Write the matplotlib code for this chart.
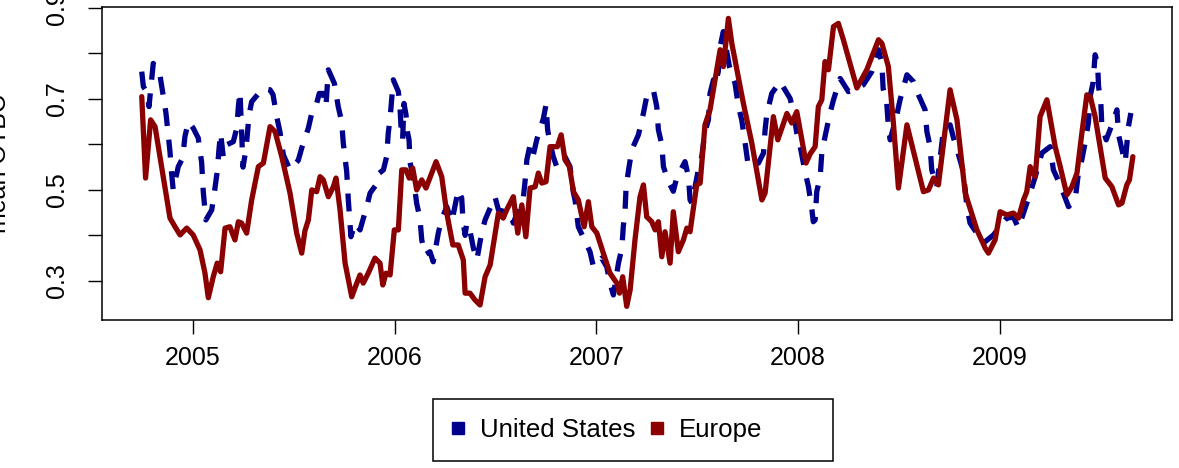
import matplotlib
matplotlib.use("Agg")
import matplotlib.pyplot as plt
from matplotlib.lines import Line2D
from matplotlib.patches import Rectangle

plt.rcParams['font.family'] = ['Liberation Sans', 'DejaVu Sans']

# weekly means (decimal years)
us_time = [2004.746, 2004.754, 2004.770, 2004.782, 2004.803, 2004.836, 2004.853, 2004.866,
           2004.878, 2004.886, 2004.894, 2004.902, 2004.927, 2004.949, 2004.960, 2004.977,
           2005.001, 2005.026, 2005.043, 2005.051, 2005.064, 2005.093, 2005.109, 2005.120,
           2005.129, 2005.137, 2005.150, 2005.167, 2005.200, 2005.217, 2005.225, 2005.233,
           2005.240, 2005.248, 2005.263, 2005.278, 2005.291, 2005.347, 2005.382, 2005.397,
           2005.415, 2005.431, 2005.448, 2005.481, 2005.522, 2005.539, 2005.572, 2005.589,
           2005.613, 2005.626, 2005.646, 2005.659, 2005.671, 2005.701, 2005.720, 2005.737,
           2005.745, 2005.762, 2005.770, 2005.783, 2005.803, 2005.828, 2005.861, 2005.878,
           2005.907, 2005.924, 2005.944, 2005.960, 2005.968, 2005.977, 2005.993, 2006.018,
           2006.026, 2006.031, 2006.039, 2006.046, 2006.056, 2006.064, 2006.071, 2006.076,
           2006.091, 2006.109, 2006.125, 2006.134, 2006.150, 2006.175, 2006.191, 2006.216,
           2006.233, 2006.258, 2006.283, 2006.315, 2006.332, 2006.339, 2006.349, 2006.357,
           2006.373, 2006.390, 2006.407, 2006.431, 2006.448, 2006.497, 2006.514, 2006.572,
           2006.588, 2006.638, 2006.646, 2006.655, 2006.671, 2006.687, 2006.704, 2006.737,
           2006.750, 2006.758, 2006.770, 2006.786, 2006.803, 2006.844, 2006.869, 2006.886,
           2006.894, 2006.902, 2006.910, 2006.968, 2006.985, 2007.026, 2007.051, 2007.067,
           2007.084, 2007.109, 2007.126, 2007.133, 2007.142, 2007.147, 2007.158, 2007.175,
           2007.208, 2007.233, 2007.249, 2007.282, 2007.299, 2007.307, 2007.324, 2007.332,
           2007.357, 2007.381, 2007.398, 2007.439, 2007.456, 2007.464, 2007.473, 2007.505,
           2007.522, 2007.538, 2007.555, 2007.563, 2007.580, 2007.588, 2007.604, 2007.613,
           2007.629, 2007.659, 2007.687, 2007.704, 2007.720, 2007.737, 2007.753, 2007.803,
           2007.828, 2007.836, 2007.844, 2007.869, 2007.910, 2007.960, 2007.976, 2007.993,
           2008.010, 2008.034, 2008.051, 2008.068, 2008.075, 2008.084, 2008.092, 2008.109,
           2008.117, 2008.133, 2008.158, 2008.175, 2008.208, 2008.249, 2008.287, 2008.323,
           2008.365, 2008.398, 2008.415, 2008.421, 2008.439, 2008.447, 2008.456, 2008.489,
           2008.505, 2008.539, 2008.571, 2008.596, 2008.629, 2008.638, 2008.654, 2008.662,
           2008.687, 2008.712, 2008.720, 2008.753, 2008.770, 2008.793, 2008.816, 2008.828,
           2008.836, 2008.852, 2008.902, 2008.918, 2008.968, 2009.018, 2009.034, 2009.067,
           2009.092, 2009.117, 2009.150, 2009.175, 2009.208, 2009.249, 2009.265, 2009.299,
           2009.340, 2009.373, 2009.389, 2009.406, 2009.428, 2009.439, 2009.447, 2009.461,
           2009.472, 2009.484, 2009.489, 2009.500, 2009.505, 2009.527, 2009.555, 2009.580,
           2009.588, 2009.609, 2009.621, 2009.637, 2009.649]
us_vals = [0.760, 0.727, 0.716, 0.683, 0.778, 0.753, 0.705, 0.669,
           0.617, 0.584, 0.537, 0.500, 0.551, 0.570, 0.617, 0.650,
           0.636, 0.614, 0.560, 0.496, 0.434, 0.456, 0.504, 0.540,
           0.590, 0.625, 0.573, 0.599, 0.606, 0.636, 0.683, 0.716,
           0.640, 0.550, 0.590, 0.665, 0.694, 0.723, 0.720, 0.709,
           0.661, 0.628, 0.577, 0.544, 0.565, 0.592, 0.636, 0.669,
           0.690, 0.712, 0.712, 0.683, 0.764, 0.734, 0.683, 0.650,
           0.603, 0.540, 0.478, 0.397, 0.427, 0.412, 0.463, 0.493,
           0.511, 0.537, 0.544, 0.573, 0.625, 0.657, 0.742, 0.716,
           0.683, 0.640, 0.610, 0.690, 0.665, 0.625, 0.610, 0.560,
           0.530, 0.470, 0.438, 0.390, 0.357, 0.364, 0.342, 0.405,
           0.436, 0.463, 0.430, 0.500, 0.482, 0.430, 0.400, 0.427,
           0.410, 0.372, 0.346, 0.405, 0.434, 0.485, 0.456, 0.449,
           0.427, 0.485, 0.518, 0.566, 0.599, 0.577, 0.610, 0.657,
           0.687, 0.632, 0.603, 0.573, 0.551, 0.573, 0.551, 0.493,
           0.478, 0.449, 0.419, 0.364, 0.331, 0.350, 0.331, 0.295,
           0.269, 0.339, 0.372, 0.419, 0.456, 0.507, 0.540, 0.588,
           0.621, 0.669, 0.705, 0.720, 0.683, 0.632, 0.599, 0.551,
           0.518, 0.497, 0.527, 0.562, 0.529, 0.478, 0.471, 0.544,
           0.573, 0.628, 0.654, 0.712, 0.742, 0.731, 0.760, 0.815,
           0.848, 0.771, 0.734, 0.683, 0.654, 0.603, 0.551, 0.559,
           0.581, 0.632, 0.665, 0.712, 0.738, 0.701, 0.672, 0.625,
           0.595, 0.540, 0.507, 0.456, 0.430, 0.434, 0.496, 0.529,
           0.581, 0.617, 0.669, 0.698, 0.745, 0.716, 0.720, 0.731,
           0.760, 0.808, 0.778, 0.723, 0.691, 0.639, 0.610, 0.665,
           0.698, 0.753, 0.738, 0.709, 0.676, 0.628, 0.595, 0.544,
           0.507, 0.603, 0.632, 0.643, 0.614, 0.580, 0.544, 0.500,
           0.463, 0.427, 0.394, 0.383, 0.401, 0.430, 0.438, 0.440,
           0.416, 0.449, 0.493, 0.529, 0.581, 0.595, 0.544, 0.511,
           0.463, 0.478, 0.537, 0.566, 0.617, 0.650, 0.705, 0.734,
           0.797, 0.778, 0.727, 0.694, 0.643, 0.610, 0.643, 0.676,
           0.621, 0.581, 0.560, 0.639, 0.669]

eu_time = [2004.746, 2004.765, 2004.790, 2004.812, 2004.886, 2004.911, 2004.936, 2004.969,
           2005.001, 2005.035, 2005.059, 2005.076, 2005.101, 2005.120, 2005.137, 2005.159,
           2005.183, 2005.208, 2005.225, 2005.241, 2005.266, 2005.291, 2005.324, 2005.349,
           2005.382, 2005.407, 2005.440, 2005.481, 2005.514, 2005.539, 2005.555, 2005.572,
           2005.589, 2005.613, 2005.630, 2005.646, 2005.671, 2005.696, 2005.709, 2005.729,
           2005.754, 2005.787, 2005.812, 2005.828, 2005.844, 2005.869, 2005.902, 2005.927,
           2005.941, 2005.957, 2005.977, 2005.998, 2006.018, 2006.035, 2006.056, 2006.072,
           2006.089, 2006.109, 2006.134, 2006.155, 2006.205, 2006.233, 2006.258, 2006.288,
           2006.315, 2006.340, 2006.349, 2006.373, 2006.398, 2006.423, 2006.448, 2006.473,
           2006.514, 2006.538, 2006.555, 2006.588, 2006.610, 2006.630, 2006.650, 2006.671,
           2006.696, 2006.712, 2006.729, 2006.750, 2006.770, 2006.806, 2006.825, 2006.844,
           2006.866, 2006.886, 2006.910, 2006.939, 2006.960, 2006.977, 2007.002, 2007.034,
           2007.067, 2007.101, 2007.114, 2007.130, 2007.150, 2007.167, 2007.191, 2007.216,
           2007.233, 2007.249, 2007.274, 2007.291, 2007.307, 2007.324, 2007.340, 2007.365,
           2007.381, 2007.406, 2007.431, 2007.448, 2007.464, 2007.497, 2007.514, 2007.538,
           2007.563, 2007.613, 2007.629, 2007.654, 2007.671, 2007.728, 2007.770, 2007.820,
           2007.836, 2007.877, 2007.899, 2007.944, 2007.968, 2007.993, 2008.018, 2008.039,
           2008.059, 2008.084, 2008.100, 2008.117, 2008.133, 2008.150, 2008.175, 2008.199,
           2008.224, 2008.291, 2008.340, 2008.398, 2008.415, 2008.447, 2008.472, 2008.497,
           2008.539, 2008.621, 2008.646, 2008.671, 2008.695, 2008.753, 2008.787, 2008.828,
           2008.886, 2008.927, 2008.943, 2008.976, 2009.001, 2009.034, 2009.067, 2009.092,
           2009.117, 2009.133, 2009.150, 2009.175, 2009.199, 2009.233, 2009.274, 2009.299,
           2009.332, 2009.357, 2009.382, 2009.406, 2009.431, 2009.448, 2009.472, 2009.522,
           2009.555, 2009.588, 2009.605, 2009.629, 2009.642, 2009.659]
eu_vals = [0.705, 0.526, 0.654, 0.639, 0.438, 0.419, 0.401, 0.416,
           0.401, 0.368, 0.318, 0.263, 0.310, 0.339, 0.320, 0.416,
           0.419, 0.390, 0.430, 0.427, 0.405, 0.478, 0.551, 0.559,
           0.639, 0.628, 0.573, 0.493, 0.405, 0.361, 0.410, 0.434,
           0.500, 0.496, 0.529, 0.522, 0.485, 0.507, 0.526, 0.456,
           0.339, 0.265, 0.295, 0.313, 0.295, 0.317, 0.350, 0.339,
           0.291, 0.317, 0.313, 0.412, 0.412, 0.544, 0.544, 0.526,
           0.548, 0.500, 0.522, 0.504, 0.562, 0.529, 0.449, 0.379,
           0.379, 0.346, 0.273, 0.273, 0.258, 0.247, 0.309, 0.335,
           0.449, 0.438, 0.456, 0.485, 0.405, 0.467, 0.397, 0.504,
           0.507, 0.537, 0.515, 0.518, 0.595, 0.595, 0.621, 0.566,
           0.551, 0.496, 0.478, 0.419, 0.474, 0.419, 0.405, 0.361,
           0.317, 0.295, 0.273, 0.309, 0.244, 0.280, 0.390, 0.485,
           0.511, 0.441, 0.430, 0.412, 0.430, 0.353, 0.408, 0.339,
           0.452, 0.364, 0.390, 0.416, 0.408, 0.511, 0.515, 0.643,
           0.676, 0.808, 0.771, 0.877, 0.822, 0.691, 0.603, 0.478,
           0.493, 0.661, 0.610, 0.668, 0.647, 0.672, 0.610, 0.559,
           0.579, 0.595, 0.683, 0.698, 0.782, 0.764, 0.859, 0.866,
           0.830, 0.724, 0.764, 0.830, 0.822, 0.771, 0.647, 0.504,
           0.643, 0.496, 0.500, 0.526, 0.511, 0.720, 0.654, 0.493,
           0.412, 0.372, 0.361, 0.390, 0.452, 0.445, 0.449, 0.438,
           0.478, 0.496, 0.551, 0.529, 0.661, 0.698, 0.595, 0.551,
           0.489, 0.507, 0.537, 0.624, 0.709, 0.705, 0.661, 0.526,
           0.507, 0.467, 0.471, 0.511, 0.522, 0.573]

series_names = ['United States', 'Europe']
series_colors = ['#00008B', '#8B0000']
year_ticks = [2005, 2006, 2007, 2008, 2009]
y_ticks = [0.3, 0.4, 0.5, 0.6, 0.7, 0.8, 0.9]
y_labels = ['0.3', '', '0.5', '', '0.7', '', '0.9']

fs = 18
W, H = 1179, 468

fig = plt.figure(figsize=(W / 100, H / 100), dpi=100)
ax = fig.add_axes([102 / W, 1 - 320 / H, 1070 / W, 313 / H])

ax.plot(us_time, us_vals, color=series_colors[0], lw=3.8,
        linestyle=(0, (3.4, 2.6)), solid_joinstyle='round')
ax.plot(eu_time, eu_vals, color=series_colors[1], lw=3.8,
        solid_joinstyle='round', solid_capstyle='round')

ax.set_xlim(2004.549, 2009.853)
ax.set_ylim(0.214, 0.902)
ax.set_xticks(year_ticks)
ax.set_xticklabels([str(y) for y in year_ticks], fontsize=fs)
ax.set_yticks(y_ticks)
ax.set_yticklabels(y_labels, fontsize=fs, rotation=90, va='center')
ax.tick_params(axis='both', length=10, width=1, direction='out', colors='black')
ax.tick_params(axis='x', pad=9)
ax.tick_params(axis='y', pad=14)
for s in ax.spines.values():
    s.set_linewidth(1.1)

# y label sits partly off the left edge, as in the original
fig.text(-1 / W, 1 - 163.5 / H, 'mean OTBC', rotation=90,
         ha='center', va='center', fontsize=fs)

# legend: frame drawn separately (R legend leaves extra room on the right)
fig.patches.append(Rectangle((433 / W, 1 - 461 / H), 400 / W, 62 / H,
                             transform=fig.transFigure, fill=False,
                             edgecolor='black', linewidth=1.1))
handles = [Line2D([], [], marker='s', linestyle='none', color=c, markersize=8)
           for c in series_colors]
fig.legend(handles, series_names, loc='center left', ncol=2,
           bbox_to_anchor=(445 / W, 1 - 430 / H), fontsize=18.6,
           frameon=False, handletextpad=0.35, columnspacing=0.33,
           borderpad=0.0, borderaxespad=0.0, handlelength=1.0)

fig.savefig('out.png', dpi=100)
